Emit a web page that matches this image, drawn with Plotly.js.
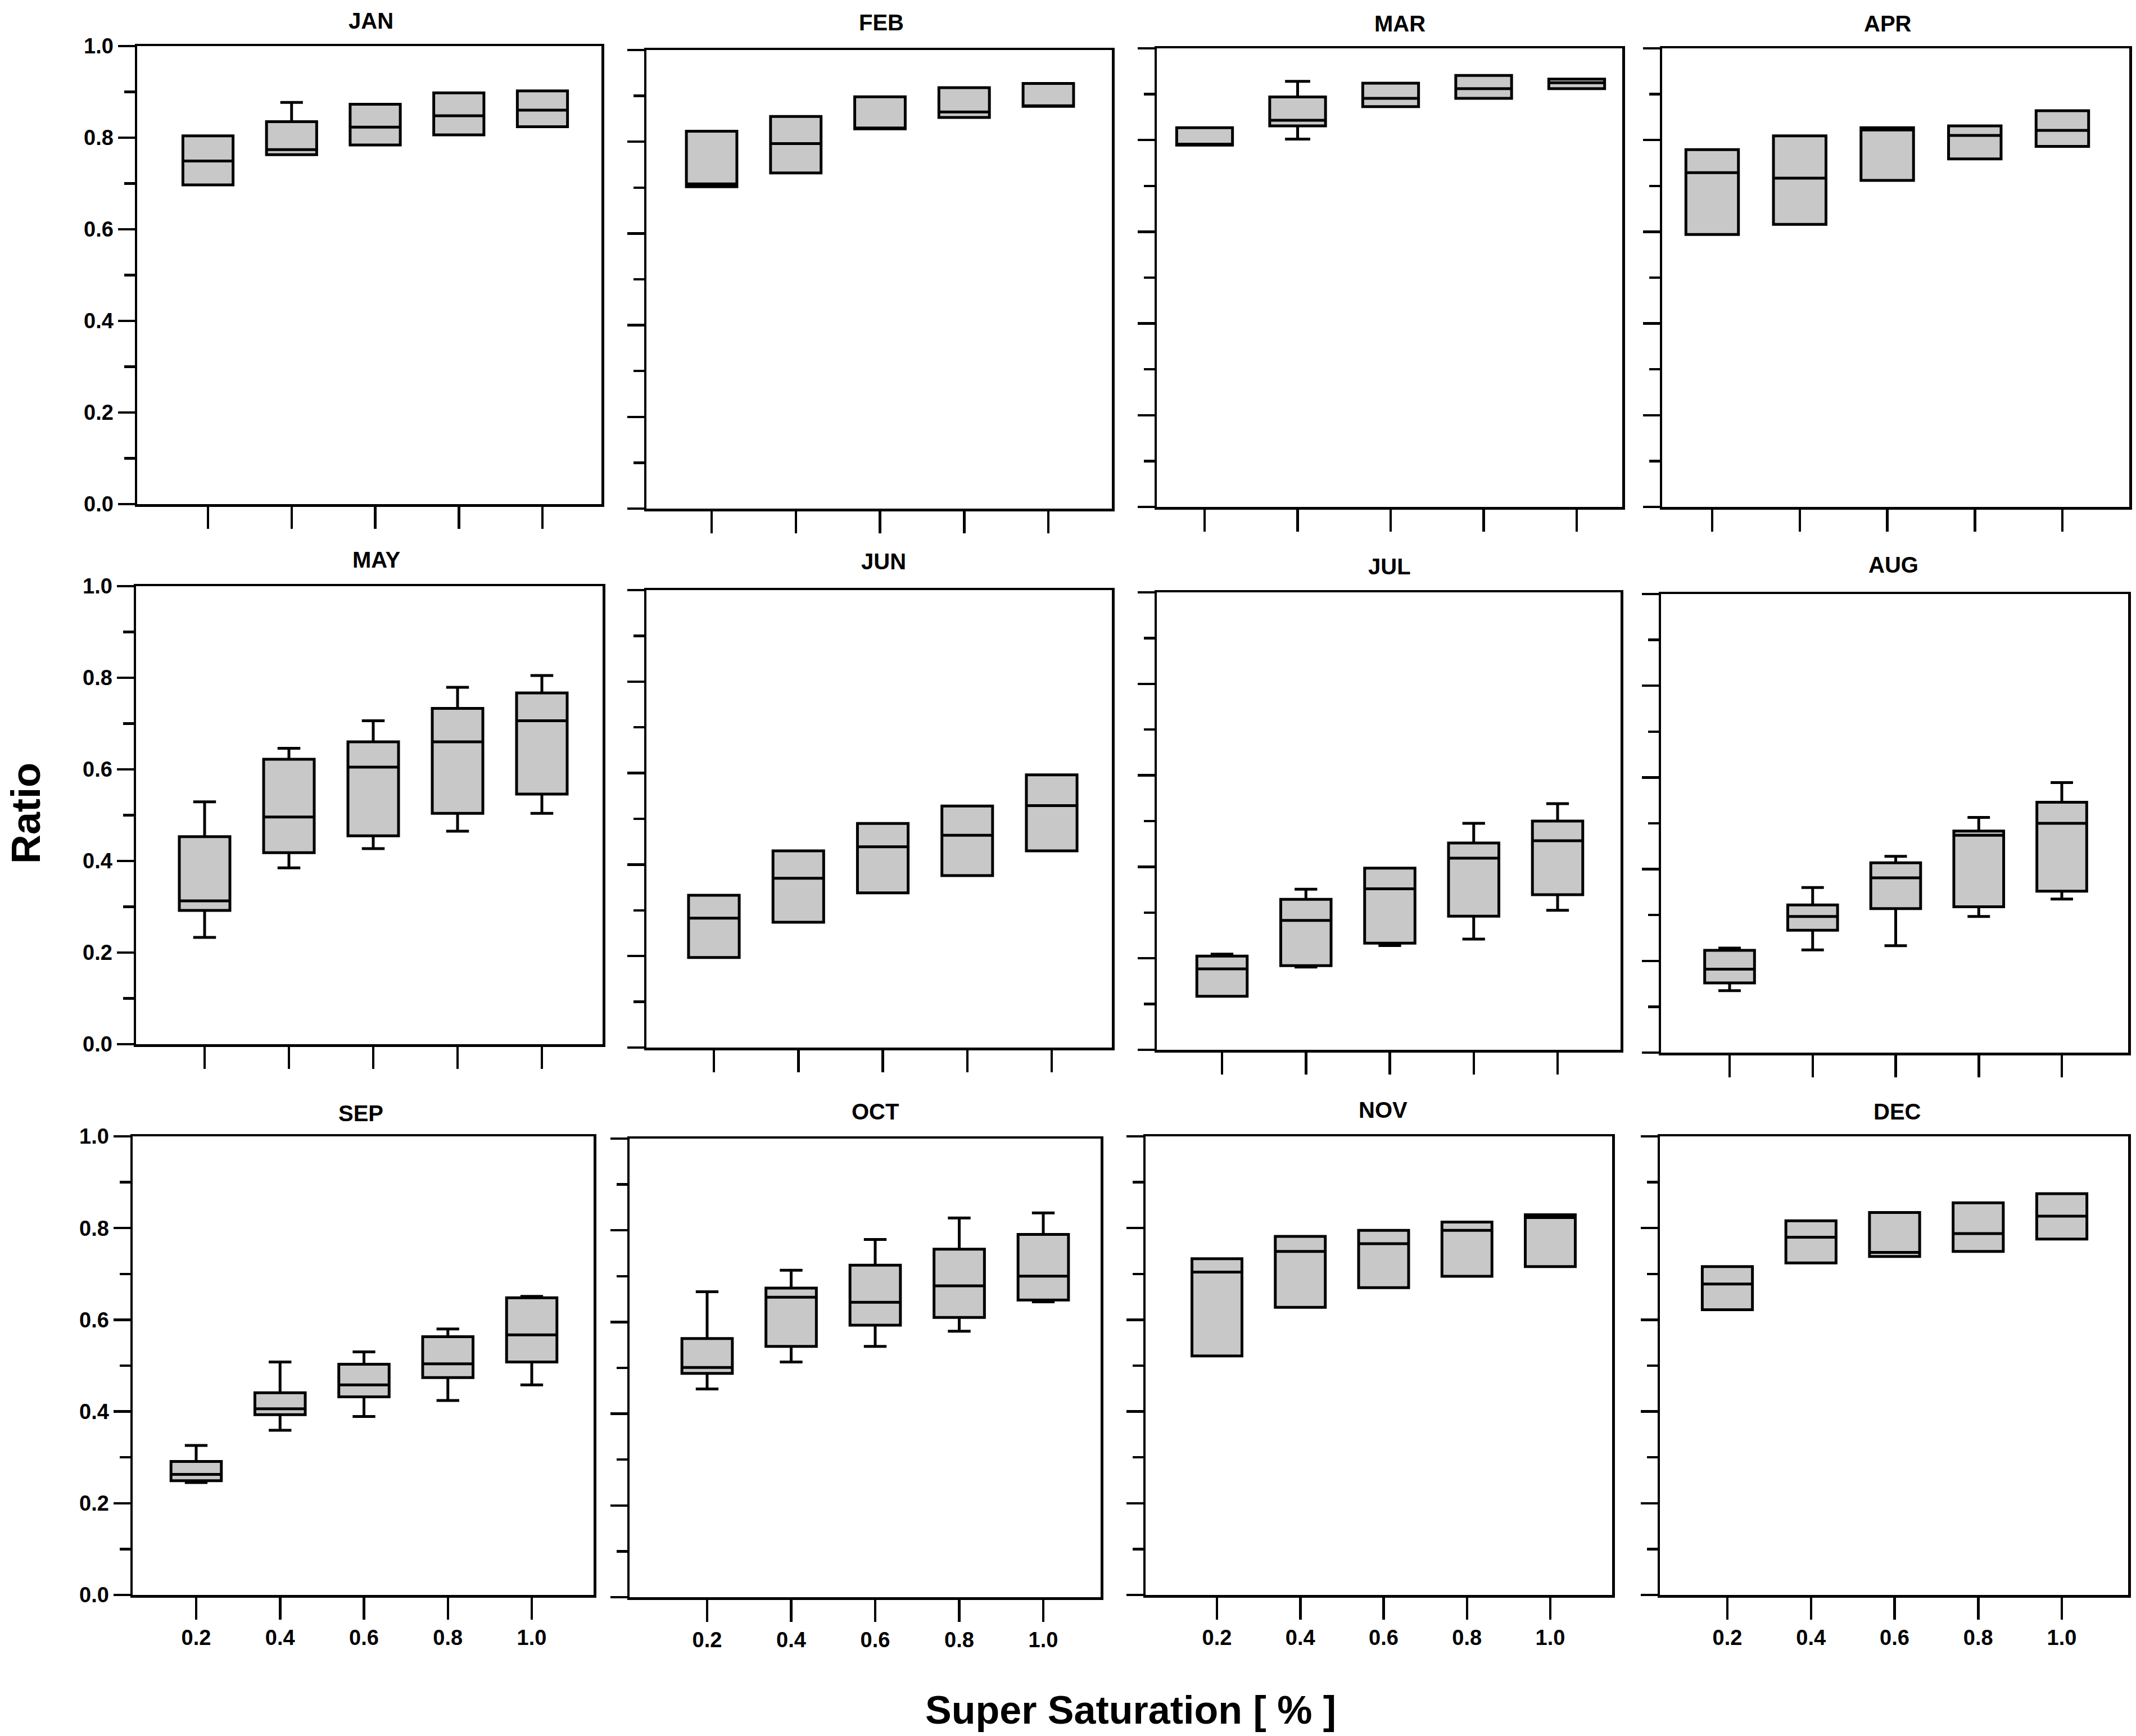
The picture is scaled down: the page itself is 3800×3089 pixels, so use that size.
<!DOCTYPE html>
<html>
<head>
<meta charset="utf-8">
<script src="https://cdn.plot.ly/plotly-3.0.1.min.js"></script>
<style>
  html, body { margin: 0; padding: 0; background: #fff; }
  #chart { width: 3800px; height: 3089px; }
</style>
</head>
<body>
<div id="chart"></div>
<script>
const W = 3800, H = 3089;

// data
const months = ['JAN','FEB','MAR','APR','MAY','JUN','JUL','AUG','SEP','OCT','NOV','DEC'];
const superSat = [0.2, 0.4, 0.6, 0.8, 1.0];
const satLabels = ['0.2', '0.4', '0.6', '0.8', '1.0'];

const q1 = [
  [0.697, 0.763, 0.784, 0.806, 0.824],
  [0.702, 0.732, 0.828, 0.853, 0.877],
  [0.789, 0.831, 0.873, 0.891, 0.912],
  [0.594, 0.616, 0.712, 0.759, 0.786],
  [0.292, 0.418, 0.455, 0.504, 0.546],
  [0.197, 0.274, 0.338, 0.376, 0.430],
  [0.117, 0.184, 0.233, 0.292, 0.339],
  [0.152, 0.267, 0.314, 0.318, 0.352],
  [0.249, 0.393, 0.432, 0.474, 0.508],
  [0.488, 0.547, 0.593, 0.610, 0.648],
  [0.521, 0.627, 0.670, 0.695, 0.716],
  [0.622, 0.724, 0.738, 0.749, 0.776]
];
const medians = [
  [0.749, 0.774, 0.823, 0.848, 0.860],
  [0.708, 0.796, 0.830, 0.865, 0.877],
  [0.791, 0.843, 0.891, 0.912, 0.925],
  [0.729, 0.717, 0.822, 0.810, 0.821],
  [0.313, 0.496, 0.605, 0.660, 0.706],
  [0.283, 0.370, 0.439, 0.464, 0.529],
  [0.177, 0.283, 0.352, 0.419, 0.457],
  [0.182, 0.297, 0.381, 0.474, 0.500],
  [0.263, 0.406, 0.458, 0.504, 0.567],
  [0.501, 0.654, 0.643, 0.679, 0.700],
  [0.704, 0.749, 0.766, 0.795, 0.823],
  [0.678, 0.780, 0.747, 0.788, 0.826]
];
const q3 = [
  [0.804, 0.835, 0.873, 0.898, 0.902],
  [0.823, 0.855, 0.898, 0.918, 0.927],
  [0.827, 0.894, 0.924, 0.941, 0.933],
  [0.779, 0.809, 0.827, 0.831, 0.864],
  [0.453, 0.622, 0.660, 0.733, 0.767],
  [0.333, 0.430, 0.490, 0.528, 0.596],
  [0.205, 0.329, 0.397, 0.452, 0.500],
  [0.223, 0.322, 0.414, 0.483, 0.546],
  [0.291, 0.441, 0.503, 0.563, 0.648],
  [0.564, 0.674, 0.724, 0.759, 0.791],
  [0.733, 0.782, 0.795, 0.813, 0.829],
  [0.716, 0.816, 0.834, 0.855, 0.875]
];
// whisker ends (equal to the box edge where no whisker is drawn)
const lowWhisker = [
  [0.697, 0.763, 0.784, 0.806, 0.824],
  [0.702, 0.732, 0.828, 0.853, 0.877],
  [0.789, 0.802, 0.873, 0.891, 0.912],
  [0.594, 0.616, 0.712, 0.759, 0.786],
  [0.233, 0.385, 0.427, 0.465, 0.504],
  [0.197, 0.274, 0.338, 0.376, 0.430],
  [0.117, 0.181, 0.228, 0.242, 0.305],
  [0.135, 0.224, 0.233, 0.297, 0.335],
  [0.245, 0.359, 0.389, 0.424, 0.458],
  [0.454, 0.513, 0.547, 0.580, 0.644],
  [0.521, 0.627, 0.670, 0.695, 0.716],
  [0.622, 0.724, 0.738, 0.749, 0.776]
];
const highWhisker = [
  [0.804, 0.877, 0.873, 0.898, 0.902],
  [0.823, 0.855, 0.898, 0.918, 0.927],
  [0.827, 0.928, 0.924, 0.941, 0.933],
  [0.779, 0.809, 0.827, 0.831, 0.864],
  [0.529, 0.646, 0.706, 0.779, 0.805],
  [0.333, 0.430, 0.490, 0.528, 0.596],
  [0.209, 0.351, 0.397, 0.495, 0.538],
  [0.228, 0.360, 0.428, 0.513, 0.589],
  [0.326, 0.508, 0.530, 0.580, 0.651],
  [0.666, 0.713, 0.780, 0.827, 0.838],
  [0.733, 0.782, 0.795, 0.813, 0.829],
  [0.716, 0.816, 0.834, 0.855, 0.875]
];

// panel frames in pixels: left, right, top, bottom, first tick x, last tick x
const frames = [
  [244, 1070,   82,  897,  370,  965],
  [1150, 1978,  89,  905, 1266, 1865],
  [2058, 2886,  86,  902, 2143, 2805],
  [2957, 3788,  86,  902, 3046, 3669],
  [242, 1072, 1043, 1858,  364,  964],
  [1150, 1978, 1050, 1864, 1270, 1871],
  [2058, 2883, 1054, 1868, 2174, 2771],
  [2955, 3786, 1057, 1873, 3077, 3668],
  [236, 1056, 2022, 2838,  349,  946],
  [1120, 1958, 2026, 2842, 1258, 1856],
  [2038, 2868, 2022, 2838, 2165, 2758],
  [2953, 3786, 2022, 2838, 3073, 3668]
];
// month title centres in pixels
const titlePos = [
  [660, 37], [1568, 40], [2490, 42], [3358, 42],
  [670, 996], [1572, 999], [2472, 1008], [3368, 1005],
  [642, 1981], [1557, 1978], [2460, 1975], [3375, 1978]
];

const FONT = 'Liberation Sans, Arial, Helvetica, sans-serif';
const yTicks = [0, 0.2, 0.4, 0.6, 0.8, 1.0];
const yTickText = ['0.0', '0.2', '0.4', '0.6', '0.8', '1.0'];

const data = [];
const layout = {
  width: W,
  height: H,
  margin: {l: 0, r: 0, t: 0, b: 0},
  paper_bgcolor: '#ffffff',
  plot_bgcolor: '#ffffff',
  showlegend: false,
  annotations: []
};

months.forEach(function(m, i) {
  const n = i + 1;
  const sfx = n === 1 ? '' : String(n);
  const f = frames[i];
  const step = (f[5] - f[4]) / 4;
  const xLo = 0.2 - (f[4] - f[0]) / step * 0.2;
  const xHi = 1.0 + (f[1] - f[5]) / step * 0.2;

  data.push({
    type: 'box',
    xaxis: 'x' + sfx,
    yaxis: 'y' + sfx,
    x: superSat,
    q1: q1[i],
    median: medians[i],
    q3: q3[i],
    lowerfence: lowWhisker[i],
    upperfence: highWhisker[i],
    width: 0.12,
    whiskerwidth: 0.45,
    boxpoints: false,
    fillcolor: '#c8c8c8',
    line: {color: '#000000', width: 5},
    hoverinfo: 'skip'
  });

  layout['xaxis' + sfx] = {
    domain: [f[0] / W, f[1] / W],
    anchor: 'y' + sfx,
    range: [xLo, xHi],
    tickmode: 'array',
    tickvals: superSat,
    ticktext: satLabels,
    showticklabels: i >= 8,
    ticks: 'outside',
    ticklen: 39,
    tickwidth: 4.5,
    tickcolor: '#000',
    tickfont: {family: FONT, size: 38, color: '#000', weight: 'bold'},
    showline: true,
    linewidth: 4.5,
    linecolor: '#000',
    mirror: true,
    showgrid: false,
    zeroline: false,
    fixedrange: true
  };

  layout['yaxis' + sfx] = {
    domain: [1 - f[3] / H, 1 - f[2] / H],
    anchor: 'x' + sfx,
    range: [0, 1],
    tickmode: 'array',
    tickvals: yTicks,
    ticktext: yTickText,
    showticklabels: i % 4 === 0,
    ticks: 'outside',
    ticklen: 30,
    tickwidth: 4.5,
    tickcolor: '#000',
    tickfont: {family: FONT, size: 38, color: '#000', weight: 'bold'},
    minor: {tickvals: [0.1, 0.3, 0.5, 0.7, 0.9], ticks: 'outside', ticklen: 19, tickwidth: 4.5, tickcolor: '#000', showgrid: false},
    showline: true,
    linewidth: 4.5,
    linecolor: '#000',
    mirror: true,
    showgrid: false,
    zeroline: false,
    fixedrange: true
  };

  layout.annotations.push({
    text: m,
    xref: 'paper', yref: 'paper',
    x: titlePos[i][0] / W,
    y: 1 - titlePos[i][1] / H,
    xanchor: 'center', yanchor: 'middle',
    showarrow: false,
    font: {family: FONT, size: 40, color: '#000', weight: 'bold'}
  });
});

layout.annotations.push({
  text: 'Ratio',
  xref: 'paper', yref: 'paper',
  x: 46 / W, y: 1 - 1447 / H,
  xanchor: 'center', yanchor: 'middle',
  textangle: -90,
  showarrow: false,
  font: {family: FONT, size: 72, color: '#000', weight: 'bold'}
});
layout.annotations.push({
  text: 'Super Saturation [ % ]',
  xref: 'paper', yref: 'paper',
  x: 2011 / W, y: 1 - 3043 / H,
  xanchor: 'center', yanchor: 'middle',
  showarrow: false,
  font: {family: FONT, size: 70, color: '#000', weight: 'bold'}
});

Plotly.newPlot('chart', data, layout, {staticPlot: true, displayModeBar: false});
</script>
</body>
</html>
